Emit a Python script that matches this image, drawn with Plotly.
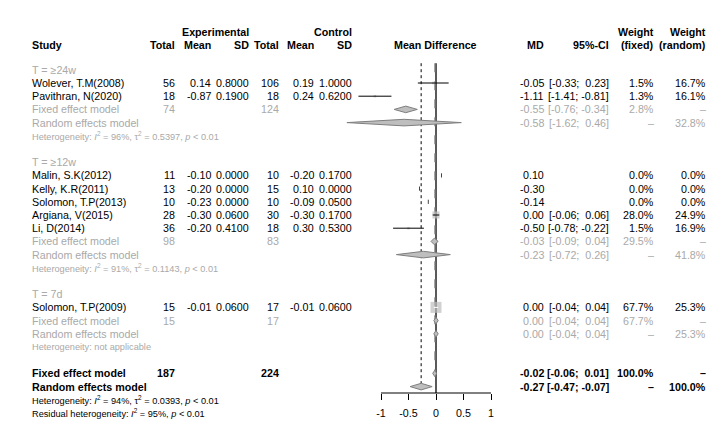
import math
import plotly.graph_objects as go

# ---------------- data ----------------
studies = ["Wolever, T.M(2008)", "Pavithran, N(2020)",
           "Malin, S.K(2012)", "Kelly, K.R(2011)", "Solomon, T.P(2013)", "Argiana, V(2015)", "Li, D(2014)",
           "Solomon, T.P(2009)"]
study_group = [0, 0, 1, 1, 1, 1, 1, 2]
exp_n = [56, 18, 11, 13, 10, 28, 36, 15]
exp_mean = [0.14, -0.87, -0.10, -0.20, -0.23, -0.30, -0.20, -0.01]
exp_sd = [0.8000, 0.1900, 0.0000, 0.0000, 0.0000, 0.0600, 0.4100, 0.0600]
ctl_n = [106, 18, 10, 15, 10, 30, 18, 17]
ctl_mean = [0.19, 0.24, -0.20, 0.10, -0.09, -0.30, 0.30, -0.01]
ctl_sd = [1.0000, 0.6200, 0.1700, 0.0000, 0.0500, 0.1700, 0.5300, 0.0600]
md = [-0.05, -1.11, 0.10, -0.30, -0.14, 0.00, -0.50, 0.00]
ci_lo = [-0.33, -1.41, None, None, None, -0.06, -0.78, -0.04]
ci_hi = [0.23, -0.81, None, None, None, 0.06, -0.22, 0.04]
w_fixed = [1.5, 1.3, 0.0, 0.0, 0.0, 28.0, 1.5, 67.7]
w_random = [16.7, 16.1, 0.0, 0.0, 0.0, 24.9, 16.9, 25.3]

group_labels = ["T = \u226524w", "T = \u226512w", "T = 7d"]
group_n_exp = [74, 98, 15]
group_n_ctl = [124, 83, 17]
group_fixed_md = [-0.55, -0.03, 0.00]
group_fixed_lo = [-0.76, -0.09, -0.04]
group_fixed_hi = [-0.34, 0.04, 0.04]
group_fixed_w = [2.8, 29.5, 67.7]
group_random_md = [-0.58, -0.23, 0.00]
group_random_lo = [-1.62, -0.72, -0.04]
group_random_hi = [0.46, 0.26, 0.04]
group_random_w = [32.8, 41.8, 25.3]
group_i2 = ["96%", "91%", None]
group_tau2 = ["0.5397", "0.1143", None]
group_p = ["< 0.01", "< 0.01", None]

total_n_exp = 187
total_n_ctl = 224
overall_fixed = [-0.02, -0.06, 0.01, 100.0]
overall_random = [-0.27, -0.47, -0.07, 100.0]
overall_i2 = "94%"
overall_tau2 = "0.0393"
overall_p = "< 0.01"
resid_i2 = "95%"
resid_p = "< 0.01"

axis_ticks = [-1, -0.5, 0, 0.5, 1]
axis_ticklabels = ["-1", "-0.5", "0", "0.5", "1"]

# ---------------- geometry / style ----------------
W, H = 722, 428
X0_PX, PX_PER_UNIT = 428, 55.0
ROW0_PX, ROW_PX = 75.0, 13.2
AXIS_PX = 385
FONT = "Liberation Sans, Arial, sans-serif"
FS = 10.7
FS_SMALL = 9.2
GRAY = "#A9A9A9"
SQ_FILL = "#BEBEBE"
DIA_FILL = "#BEBEBE"
DIA_LINE = "#7F7F7F"
SQ_MAX = 11.0

COL = dict(study=23, en=168, em=204, es=242, cn=272, cm=307, cs=345,
           md=537, ci=602, wf=647, wr=699, forest=427)

annotations = []


def txt(text, col, row, anchor="right", color="black", size=FS, bold=False):
    if not text:
        return
    if bold:
        text = "<b>" + text + "</b>"
    annotations.append(dict(text=text, x=COL[col] / W, xref="paper", y=row, yref="y",
                            xanchor=anchor, yanchor="middle", showarrow=False, borderpad=0,
                            font=dict(size=size, color=color, family=FONT)))


def f2(v):
    return f"{v:.2f}"


def fci(lo, hi):
    if lo is None:
        return ""
    pad_lo = "" if lo < 0 else "\u00a0"
    pad_hi = "\u00a0" if hi < 0 else "\u00a0\u00a0"
    return f"[{pad_lo}{lo:.2f};{pad_hi}{hi:.2f}]"


def fw(w):
    return f"{w:.1f}%"


def het(i2, tau2, p):
    if i2 is None:
        return "Heterogeneity: not applicable"
    return (f"Heterogeneity: <i>I</i><sup>2</sup> = {i2}, \u03c4<sup>2</sup> = {tau2}, "
            f"<i>p</i> {p}")


# ---------------- headers ----------------
H1, H2 = -3.9, -2.9
txt("Experimental", "es", H1, bold=True)
txt("Control", "cs", H1, bold=True)
txt("Weight", "wf", H1, bold=True)
txt("Weight", "wr", H1, bold=True)
txt("Study", "study", H2, anchor="left", bold=True)
for c, t in [("en", "Total"), ("em", "Mean"), ("es", "SD"), ("cn", "Total"), ("cm", "Mean"),
             ("cs", "SD"), ("md", "MD"), ("ci", "95%-CI"), ("wf", "(fixed)"), ("wr", "(random)")]:
    txt(t, c, H2, bold=True)
txt("Mean Difference", "forest", H2, anchor="center", bold=True)

# ---------------- rows ----------------
study_rows = [None] * len(studies)
g_fixed_rows, g_random_rows = [], []
row = -1
for g, label in enumerate(group_labels):
    txt(label, "study", row, anchor="left", color=GRAY)
    row += 1
    for i, s in enumerate(studies):
        if study_group[i] != g:
            continue
        study_rows[i] = row
        txt(s, "study", row, anchor="left")
        txt(str(exp_n[i]), "en", row)
        txt(f2(exp_mean[i]), "em", row)
        txt(f"{exp_sd[i]:.4f}", "es", row)
        txt(str(ctl_n[i]), "cn", row)
        txt(f2(ctl_mean[i]), "cm", row)
        txt(f"{ctl_sd[i]:.4f}", "cs", row)
        txt(f2(md[i]), "md", row)
        txt(fci(ci_lo[i], ci_hi[i]), "ci", row)
        txt(fw(w_fixed[i]), "wf", row)
        txt(fw(w_random[i]), "wr", row)
        row += 1
    g_fixed_rows.append(row)
    txt("Fixed effect model", "study", row, anchor="left", color=GRAY)
    txt(str(group_n_exp[g]), "en", row, color=GRAY)
    txt(str(group_n_ctl[g]), "cn", row, color=GRAY)
    txt(f2(group_fixed_md[g]), "md", row, color=GRAY)
    txt(fci(group_fixed_lo[g], group_fixed_hi[g]), "ci", row, color=GRAY)
    txt(fw(group_fixed_w[g]), "wf", row, color=GRAY)
    txt("\u2013", "wr", row, color=GRAY)
    row += 1
    g_random_rows.append(row)
    txt("Random effects model", "study", row, anchor="left", color=GRAY)
    txt(f2(group_random_md[g]), "md", row, color=GRAY)
    txt(fci(group_random_lo[g], group_random_hi[g]), "ci", row, color=GRAY)
    txt("\u2013", "wf", row, color=GRAY)
    txt(fw(group_random_w[g]), "wr", row, color=GRAY)
    row += 1
    txt(het(group_i2[g], group_tau2[g], group_p[g]), "study", row, anchor="left", color=GRAY, size=FS_SMALL)
    row += 2

fixed_row = row
txt("Fixed effect model", "study", row, anchor="left", bold=True)
txt(str(total_n_exp), "en", row, bold=True)
txt(str(total_n_ctl), "cn", row, bold=True)
txt(f2(overall_fixed[0]), "md", row, bold=True)
txt(fci(overall_fixed[1], overall_fixed[2]), "ci", row, bold=True)
txt(fw(overall_fixed[3]), "wf", row, bold=True)
txt("\u2013", "wr", row, bold=True)
row += 1
random_row = row
txt("Random effects model", "study", row, anchor="left", bold=True)
txt(f2(overall_random[0]), "md", row, bold=True)
txt(fci(overall_random[1], overall_random[2]), "ci", row, bold=True)
txt("\u2013", "wf", row, bold=True)
txt(fw(overall_random[3]), "wr", row, bold=True)
row += 1
txt(het(overall_i2, overall_tau2, overall_p), "study", row, anchor="left", size=FS_SMALL)
row += 1
txt(f"Residual heterogeneity: <i>I</i><sup>2</sup> = {resid_i2}, <i>p</i> {resid_p}", "study", row,
    anchor="left", size=FS_SMALL)

axis_row = (AXIS_PX - ROW0_PX) / ROW_PX
top_row = -1.5
DH = 0.25

fig = go.Figure()

# reference lines
fig.add_trace(go.Scatter(x=[overall_random[0]] * 2, y=[top_row, random_row - DH], mode="lines",
                         line=dict(color="black", width=1, dash="dot"), hoverinfo="skip"))
fig.add_trace(go.Scatter(x=[0, 0], y=[top_row, axis_row], mode="lines",
                         line=dict(color="black", width=1.3), hoverinfo="skip"))
fig.add_trace(go.Scatter(x=[overall_fixed[0]] * 2, y=[top_row, fixed_row], mode="lines",
                         line=dict(color="#808080", width=1.2, dash="dash"), hoverinfo="skip"))

# axis line
fig.add_trace(go.Scatter(x=[axis_ticks[0], axis_ticks[-1]], y=[axis_row, axis_row], mode="lines",
                         line=dict(color="black", width=1), hoverinfo="skip"))

# squares
sq_x, sq_y, sq_s = [], [], []
zx, zy = [], []
for i in range(len(studies)):
    if w_fixed[i] > 0:
        s = max(SQ_MAX * math.sqrt(w_fixed[i] / max(w_fixed)), 2.5)
        sq_x.append(md[i]); sq_y.append(study_rows[i]); sq_s.append(s)
    else:
        zx.append(md[i]); zy.append(study_rows[i])
fig.add_trace(go.Scatter(x=sq_x, y=sq_y, mode="markers",
                         marker=dict(symbol="square", size=sq_s, color=SQ_FILL, line=dict(width=0)),
                         hoverinfo="skip"))
fig.add_trace(go.Scatter(x=zx, y=zy, mode="markers",
                         marker=dict(symbol="line-ns", size=3, line=dict(width=1, color="#444444")),
                         hoverinfo="skip"))

# CI lines
cx_out, cy_out, cx_in, cy_in = [], [], [], []
for i in range(len(studies)):
    if ci_lo[i] is None:
        continue
    s = SQ_MAX * math.sqrt(w_fixed[i] / max(w_fixed))
    inside = (ci_hi[i] - ci_lo[i]) * PX_PER_UNIT < s - 1
    xs, ys = (cx_in, cy_in) if inside else (cx_out, cy_out)
    xs += [ci_lo[i], ci_hi[i], None]
    ys += [study_rows[i], study_rows[i], None]
fig.add_trace(go.Scatter(x=cx_out, y=cy_out, mode="lines", line=dict(color="black", width=1),
                         hoverinfo="skip"))
fig.add_trace(go.Scatter(x=cx_in, y=cy_in, mode="lines", line=dict(color="white", width=1),
                         hoverinfo="skip"))


def diamond(est, lo, hi, r):
    fig.add_trace(go.Scatter(x=[lo, est, hi, est, lo], y=[r, r - DH, r, r + DH, r], mode="lines",
                             fill="toself", fillcolor=DIA_FILL,
                             line=dict(color=DIA_LINE, width=1), hoverinfo="skip"))


for g in range(len(group_labels)):
    diamond(group_fixed_md[g], group_fixed_lo[g], group_fixed_hi[g], g_fixed_rows[g])
    diamond(group_random_md[g], group_random_lo[g], group_random_hi[g], g_random_rows[g])
diamond(overall_fixed[0], overall_fixed[1], overall_fixed[2], fixed_row)
diamond(overall_random[0], overall_random[1], overall_random[2], random_row)

fig.update_layout(
    width=W, height=H, showlegend=False,
    paper_bgcolor="white", plot_bgcolor="white",
    margin=dict(l=0, r=0, t=0, b=0, pad=0, autoexpand=False),
    annotations=annotations,
    font=dict(family=FONT, size=FS, color="black"),
    xaxis=dict(range=[-X0_PX / PX_PER_UNIT, (W - X0_PX) / PX_PER_UNIT], domain=[0, 1],
               anchor="free", position=1 - AXIS_PX / H,
               showgrid=False, zeroline=False, showline=False,
               tickmode="array", tickvals=axis_ticks, ticktext=axis_ticklabels,
               ticks="outside", ticklen=6, tickwidth=1, tickcolor="black",
               ticklabelstandoff=4,
               tickfont=dict(family=FONT, size=FS, color="black")),
    yaxis=dict(range=[(H - ROW0_PX) / ROW_PX, -ROW0_PX / ROW_PX], domain=[0, 1], visible=False),
)

fig.write_html("out.html")
